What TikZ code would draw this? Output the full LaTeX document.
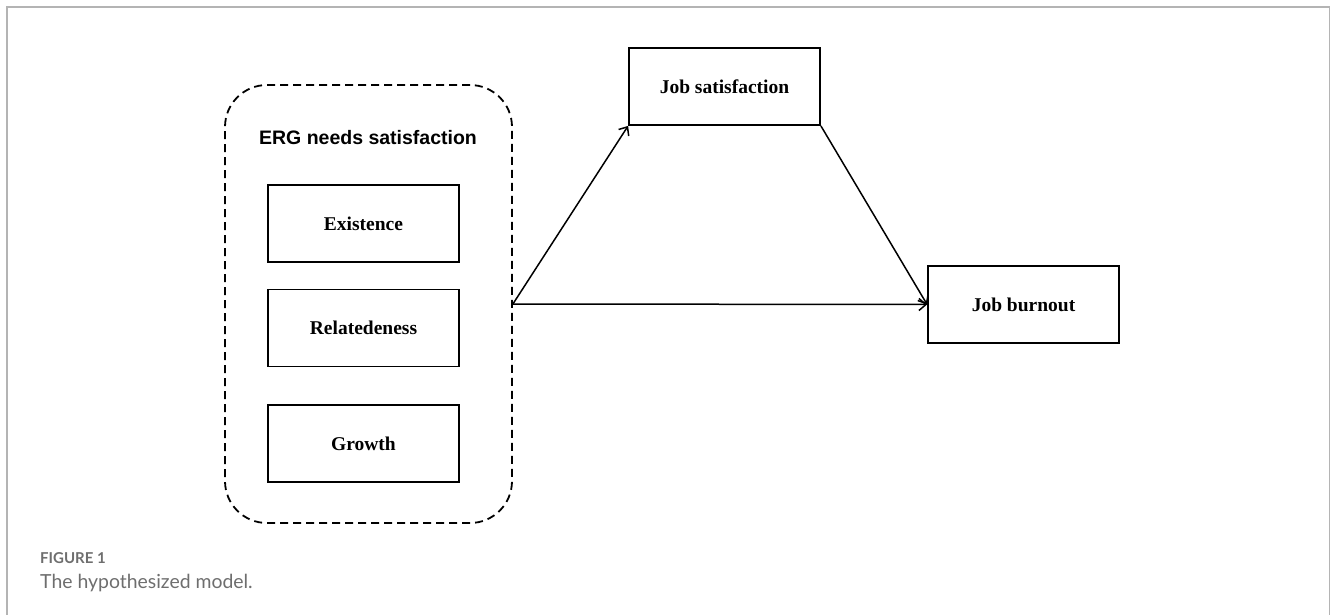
\documentclass[tikz,border=0pt]{standalone}
\usepackage{fontspec}
\setmainfont{Liberation Serif}
\newfontfamily\arialfont{Liberation Sans}
\newfontfamily\capfont{Lato}
\usetikzlibrary{arrows.meta}
\definecolor{framegray}{HTML}{B4B4B4}
\definecolor{capgray}{HTML}{6E6E6E}
\tikzset{
  itembox/.style={draw, line width=1.8pt, minimum width=191pt, minimum height=77pt, inner sep=0pt,
    font=\fontsize{19.5}{22}\selectfont\bfseries},
  groupbox/.style={draw, dashed, dash pattern=on 8pt off 5pt, line width=1.8pt, rounded corners=42pt,
    minimum width=287pt, minimum height=438pt, inner sep=0pt},
  link/.style={line width=1.5pt, -{Straight Barb[length=7pt,width=12pt,line width=1.5pt]}},
  frameline/.style={draw=framegray, line width=1.5pt}
}
\begin{document}
\begin{tikzpicture}[x=1pt,y=-1pt]
\useasboundingbox (0,0) rectangle (1331,615);
\draw[frameline] (7,615) -- (7,7) -- (1329.5,7) -- (1329.5,615);
\node[groupbox] (erg) at (368.5,304) {};
\node[font=\arialfont\fontsize{19.5}{22}\selectfont\bfseries] (ergt) at (368,138) {ERG needs satisfaction};
\node[itembox] (ex) at (363.5,223.5) {Existence};
\node[itembox] (re) at (363.5,328) {Relatedeness};
\node[itembox] (gr) at (363.5,443.5) {Growth};
\node[itembox] (js) at (724.5,86.5) {Job satisfaction};
\node[itembox] (jb) at (1023.5,304.5) {Job burnout};
\draw[link] (erg.east) -- (js.south west);
\draw[link] (erg.east) -- (jb.west);
\draw[link] (js.south east) -- (jb.west);
\node[anchor=west, text=capgray, font=\capfont\fontsize{15}{18}\selectfont\bfseries, inner sep=0pt] (fig) at (40,558) {FIGURE 1};
\node[anchor=west, text=capgray, font=\capfont\fontsize{19.4}{22}\selectfont, inner sep=0pt] (cap) at (40,583) {The hypothesized model.};
\end{tikzpicture}
\end{document}
